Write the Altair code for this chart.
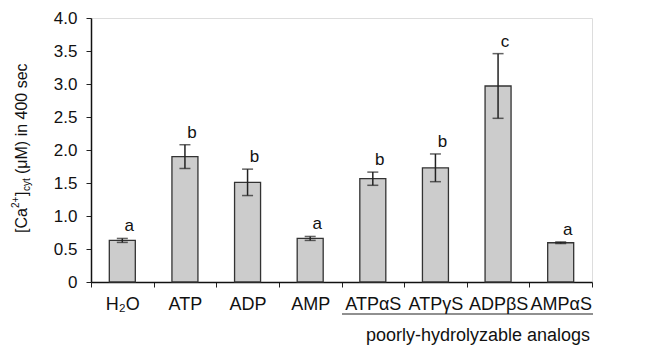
import altair as alt
import pandas as pd

categories = ["H₂O", "ATP", "ADP", "AMP", "ATPαS", "ATPγS", "ADPβS", "AMPαS"]
means = [0.63, 1.90, 1.51, 0.66, 1.565, 1.73, 2.97, 0.595]
errors = [0.03, 0.18, 0.20, 0.03, 0.10, 0.21, 0.49, 0.012]
letters = ["a", "b", "b", "a", "b", "b", "c", "a"]
y_ticks = [0, 0.5, 1.0, 1.5, 2.0, 2.5, 3.0, 3.5, 4.0]

df = pd.DataFrame({"cat": categories, "mean": means, "err": errors, "letter": letters})
df["lo"] = df["mean"] - df["err"]
df["hi"] = df["mean"] + df["err"]

FONT = "Arial, Liberation Sans"
W, H = 501, 264

xaxis = alt.Axis(labelAngle=0, labelFontSize=18, labelFont=FONT, labelColor="#111",
                 tickBand="extent", tickSize=5, tickColor="#222", domainColor="#111",
                 domainWidth=1.5, labelPadding=8, labelOverlap=False, title=None)
yaxis = alt.Axis(values=y_ticks, labelExpr="datum.value == 0 ? '0' : format(datum.value, '.1f')",
                 labelFontSize=17, labelFont=FONT, labelColor="#111", tickSize=5,
                 tickColor="#222", domainColor="#111", domainWidth=1.5,
                 labelPadding=9, grid=False, labelOverlap=False, labelFlush=False, title=None)
xscale = alt.Scale(paddingInner=0, paddingOuter=0)
yscale = alt.Scale(domain=[0, 4], nice=False)


def X():
    return alt.X("cat:N", sort=categories, scale=xscale, axis=xaxis)


def Y(field):
    return alt.Y(field, scale=yscale, axis=yaxis)


bars = alt.Chart(df).mark_bar(size=26, fill="#cccccc", stroke="#333333", strokeWidth=1.3).encode(
    x=X(), y=Y("mean:Q"))

err_rule = alt.Chart(df).mark_rule(color="#222", strokeWidth=1.5).encode(
    x=X(), y=Y("lo:Q"), y2="hi:Q")
cap_hi = alt.Chart(df).mark_tick(color="#222", thickness=1.5, size=11).encode(
    x=X(), y=Y("hi:Q"))
cap_lo = alt.Chart(df).mark_tick(color="#222", thickness=1.5, size=11).encode(
    x=X(), y=Y("lo:Q"))

labels = alt.Chart(df).mark_text(font=FONT, fontSize=17, dx=7, dy=-7, baseline="alphabetic",
                                 color="#111").encode(
    x=X(), y=Y("hi:Q"), text="letter:N")


# Y axis title assembled from pieces (super/subscripts)
def piece(txt, x, y, size):
    return alt.Chart(pd.DataFrame({"t": [txt]})).mark_text(
        font=FONT, fontSize=size, angle=270, align="left", baseline="middle", color="#111"
    ).encode(text="t:N", x=alt.value(x), y=alt.value(y))


tx = -69
top = 18
title_layers = [
    piece("[Ca", tx, 233 - top, 16),
    piece("2+", tx - 6, 208 - top, 10),
    piece("]", tx, 196 - top, 16),
    piece("cyt", tx + 5, 191 - top, 10),
    piece("(μM) in 400 sec", tx, 174 - top, 16),
]

ann_rule = alt.Chart(pd.DataFrame({"a": [0]})).mark_rule(color="#222", strokeWidth=1.2).encode(
    x=alt.value(251), x2=alt.value(502), y=alt.value(314 - top))
ann_text = alt.Chart(pd.DataFrame({"t": ["poorly-hydrolyzable analogs"]})).mark_text(
    font=FONT, fontSize=18, align="center", baseline="middle", color="#111").encode(
    text="t:N", x=alt.value(387), y=alt.value(336 - top))

chart = alt.layer(bars, err_rule, cap_hi, cap_lo, labels, ann_rule, ann_text, *title_layers).properties(
    width=W, height=H,
    padding={"left": 83, "top": 10, "right": 60, "bottom": 70},
    autosize=alt.AutoSizeParams(type="none"),
).configure_view(stroke=None).configure(background="white")

chart.save("out.html", embed_options={"renderer": "svg", "actions": False})
